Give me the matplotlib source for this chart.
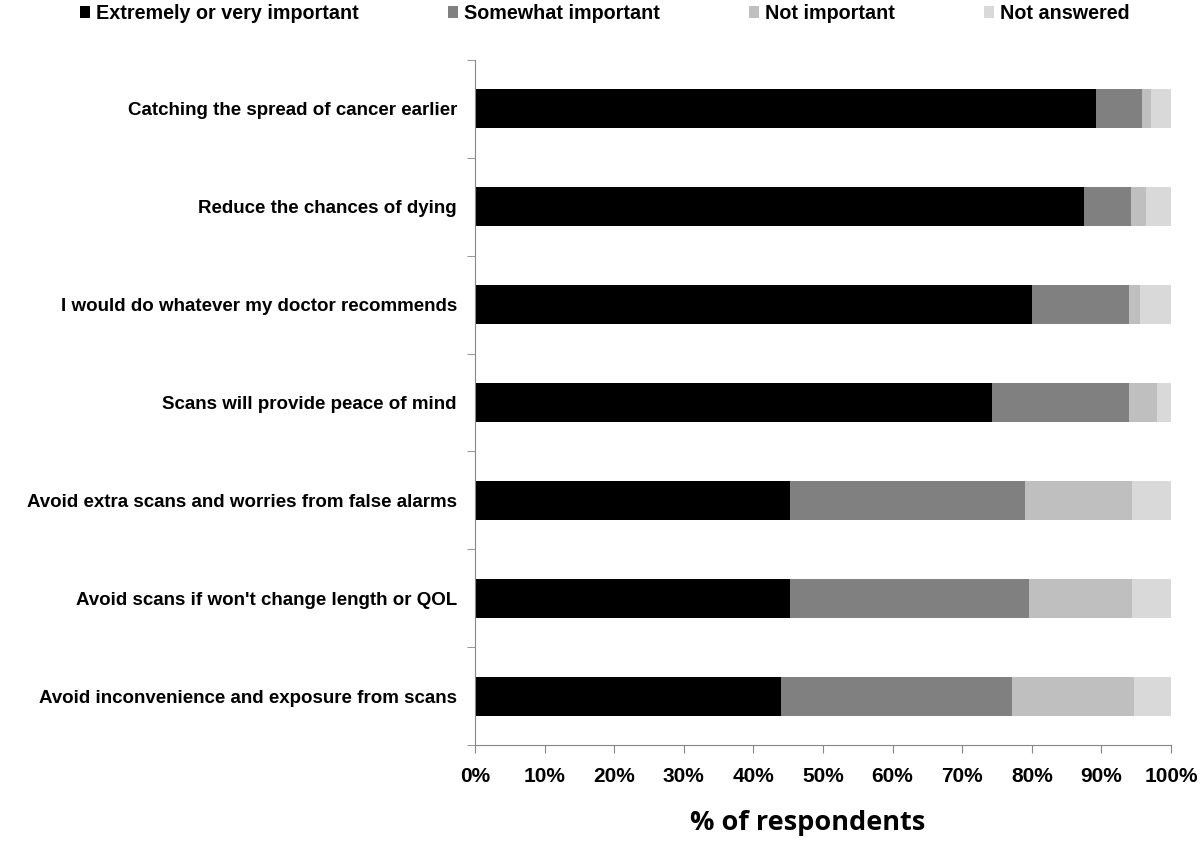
import matplotlib.pyplot as plt
from matplotlib.patches import Patch
from matplotlib.ticker import FixedLocator, PercentFormatter
import numpy as np

# reasons, top to bottom
reasons = ['Catching the spread of cancer earlier',
           'Reduce the chances of dying',
           'I would do whatever my doctor recommends',
           'Scans will provide peace of mind',
           'Avoid extra scans and worries from false alarms',
           "Avoid scans if won't change length or QOL",
           'Avoid inconvenience and exposure from scans']

# % of respondents per answer
very_important = [89.3, 87.5, 80.1, 74.3, 45.2, 45.2, 44.0]
somewhat_important = [6.5, 6.7, 13.8, 19.6, 33.9, 34.4, 33.2]
not_important = [1.3, 2.2, 1.6, 4.1, 15.3, 14.8, 17.5]
not_answered = [2.9, 3.6, 4.5, 2.0, 5.6, 5.6, 5.3]

series = [('Extremely or very important', very_important, '#000000'),
          ('Somewhat important', somewhat_important, '#808080'),
          ('Not important', not_important, '#bfbfbf'),
          ('Not answered', not_answered, '#d9d9d9')]

font = 'Liberation Sans'
spine_col = '#868686'

fig = plt.figure(figsize=(12, 8.41), dpi=100)
ax = fig.add_axes([0.3958, 0.1141, 0.58, 0.8146])

y = np.arange(len(reasons))
left = np.zeros(len(reasons))
for name, vals, col in series:
    ax.barh(y, vals, left=left, height=0.4, color=col, label=name)
    left += np.array(vals)

ax.set_xlim(0, 100)
ax.set_ylim(len(reasons) - 0.5, -0.5)
ax.set_xticks(np.arange(0, 101, 10))
ax.xaxis.set_major_formatter(PercentFormatter(decimals=0))
ax.set_yticks(y)
ax.set_yticklabels(reasons, fontsize=13.5, fontweight='bold', family=font)
ax.yaxis.set_minor_locator(FixedLocator(np.arange(-0.5, len(reasons), 1)))
ax.tick_params(axis='y', which='major', length=0, pad=13)
ax.tick_params(axis='y', which='minor', length=6, color=spine_col, direction='out')
ax.tick_params(axis='x', length=6, color=spine_col, pad=10)
for lbl in ax.get_xticklabels():
    lbl.set_family(font)
    lbl.set_fontsize(15)
    lbl.set_fontweight('bold')

for s in ['top', 'right']:
    ax.spines[s].set_visible(False)
for s in ['left', 'bottom']:
    ax.spines[s].set_color(spine_col)

ax.set_xlabel('% of respondents', fontsize=19.5, fontweight='bold', family='Open Sans')
ax.xaxis.set_label_coords(0.478, -0.095)

handles = [Patch(facecolor=c, edgecolor='none') for _, _, c in series]
fig.legend(handles, [s[0] for s in series], loc='upper left',
           bbox_to_anchor=(80 / 1200, 1 - 4 / 841), ncol=4, frameon=False,
           prop={'family': font, 'size': 14.2, 'weight': 'bold'},
           borderpad=0, borderaxespad=0,
           handlelength=0.5, handleheight=0.5, handletextpad=0.3,
           columnspacing=4.54)

fig.savefig('out.png', dpi=100)
